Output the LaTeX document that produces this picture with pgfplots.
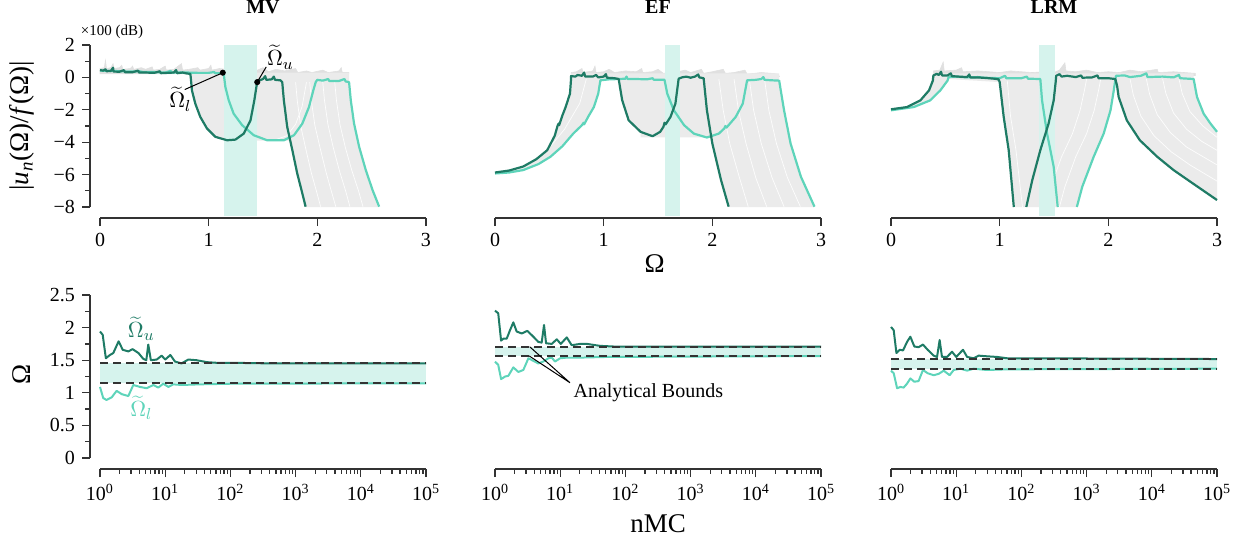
\documentclass[border=0pt]{standalone}
\usepackage{fontspec}
\setmainfont{Liberation Serif}
\usepackage{pgfplots}
\pgfplotsset{compat=1.18}
\definecolor{dk}{HTML}{1E7B65}
\definecolor{lt}{HTML}{5ED4BA}
\definecolor{bandc}{HTML}{D6F3ED}
\definecolor{bund}{HTML}{EBEBEB}
\definecolor{noise}{HTML}{E0E0E0}
\definecolor{spine}{HTML}{333333}

\pgfplotsset{
  common/.style={
    scale only axis, clip=false,
    axis x line*=bottom, axis y line*=left, separate axis lines,
    axis line style={draw=spine, line width=0.65pt, -},
    every outer x axis line/.append style={yshift=-5.5pt},
    every outer y axis line/.append style={xshift=-5pt},
    tick align=outside, major tick length=4pt, minor tick length=2.3pt,
    every tick/.style={draw=spine, line width=0.65pt},
    xtick style={yshift=-5.5pt}, ytick style={xshift=-5pt},
    xticklabel style={yshift=-5.5pt}, yticklabel style={xshift=-5pt},
    /pgf/number format/assume math mode=true,
    ticklabel style={font=\fontsize{10}{12}\selectfont},
    title style={font=\bfseries\fontsize{10}{12}\selectfont, yshift=6pt},
    label style={font=\fontsize{13.5}{16}\selectfont},
  },
  toprow/.style={common, width=163pt, height=81pt,
    xmin=0, xmax=3, ymin=-8, ymax=2,
    xtick={0,1,2,3}, ytick={-8,-6,-4,-2,0,2}, minor ytick={-7,-5,-3,-1,1},
    yticklabels={−8,−6,−4,−2,0,2}},
  botrow/.style={common, width=163pt, height=81.5pt,
    xmin=1, xmax=100000, ymin=0, ymax=2.5,
    xtick={1,10,100,1000,10000,100000},
    xticklabels={10\textsuperscript{0},10\textsuperscript{1},10\textsuperscript{2},10\textsuperscript{3},10\textsuperscript{4},10\textsuperscript{5}},
    minor xtick={2,3,4,5,6,7,8,9,20,30,40,50,60,70,80,90,200,300,400,500,600,700,800,900,2000,3000,4000,5000,6000,7000,8000,9000,20000,30000,40000,50000,60000,70000,80000,90000},
    ytick={0,0.5,1,1.5,2,2.5}, minor ytick={0.25,0.75,1.25,1.75,2.25},
    yticklabels={0,0.5,1,1.5,2,2.5}},
  dkc/.style={dk, line width=1.1pt, line join=round},
  ltc/.style={lt, line width=1.1pt, line join=round},
  wl/.style={white, line width=0.35pt, opacity=0.9},
  bnd/.style={draw=spine, line width=1pt, dash pattern=on 4pt off 2.5pt},
}

\begin{document}
\begin{tikzpicture}
\useasboundingbox (0,0) rectangle (622.5pt,268.5pt);

% ---------- MV, frequency response ----------
\begin{axis}[toprow, at={(50pt,165pt)}, anchor=south west, title={MV},
  ylabel={|\textit{u}\textsubscript{\textit{n}}(Ω)/\textit{f}(Ω)|},
  ylabel style={at={(axis description cs:-0.24,0.5)}, anchor=center}]
\addplot[fill=noise, draw=noise, line width=0.3pt] coordinates {(0,0.2)(0,0.55)(0.04,0.6)(0.05,1.05)(0.06,0.55)(0.1,0.6)(0.12,0.85)(0.13,0.55)(0.18,0.6)(0.2,0.75)(0.21,0.5)(0.28,0.55)(0.3,0.7)(0.31,0.5)(0.38,0.6)(0.42,0.5)(0.48,0.65)(0.49,0.45)(0.55,0.5)(0.6,0.7)(0.61,0.45)(0.68,0.5)(0.75,0.85)(0.76,0.45)(0.82,0.5)(0.9,0.6)(0.92,0.45)(1.0,0.55)(1.02,0.75)(1.03,0.45)(1.1,0.55)(1.2,0.45)(1.3,0.55)(1.32,0.75)(1.33,0.4)(1.45,0.45)(1.5,0.6)(1.55,0.35)(1.62,0.5)(1.7,0.4)(1.8,0.55)(1.82,0.3)(1.9,0.4)(1.95,0.3)(2.05,0.45)(2.1,0.3)(2.2,0.4)(2.22,0.6)(2.23,0.3)(2.29,0.3)(2.29,0.2)};
\addplot[fill=bund, draw=none] coordinates {(0.831,0.3)(2.292,0.3)(2.292,-0.29)(2.308,-1.42)(2.338,-2.85)(2.385,-4.29)(2.446,-5.72)(2.508,-6.95)(2.569,-8)(1.892,-8)(1.862,-7.16)(1.815,-5.93)(1.77,-4.49)(1.74,-3.9)(1.17,-3.9)(1.062,-3.67)(0.985,-3.16)(0.923,-2.44)(0.877,-1.62)(0.846,-0.8)(0.831,0.02)};
\addplot[wl] coordinates {(1.80,-0.29)(1.815,-1.42)(1.847,-3.0)(1.895,-4.45)(1.945,-5.9)(1.995,-7.1)(2.03,-7.98)};
\addplot[wl] coordinates {(1.93,-0.29)(1.945,-1.42)(1.977,-2.95)(2.027,-4.4)(2.08,-5.85)(2.13,-7.05)(2.17,-7.98)};
\addplot[wl] coordinates {(2.05,-0.29)(2.066,-1.42)(2.098,-2.92)(2.148,-4.37)(2.205,-5.8)(2.26,-7.0)(2.30,-7.98)};
\addplot[wl] coordinates {(2.16,-0.29)(2.176,-1.42)(2.208,-2.9)(2.258,-4.33)(2.318,-5.76)(2.378,-6.98)(2.42,-7.98)};
\addplot[wl] coordinates {(1.60,-3.88)(1.72,-3.6)(1.8,-2.9)(1.86,-1.8)(1.9,-0.3)};
\addplot[fill=bandc, draw=none] coordinates {(1.144,-8.55)(1.447,-8.55)(1.447,2)(1.144,2)};
\addplot[ltc] coordinates {(0,0.42)(0.3,0.36)(0.36,0.38)(0.4,0.33)(0.5,0.33)(0.6,0.3)(0.65,0.4)(0.66,0.3)(0.8,0.3)(0.9,0.28)(1.0,0.28)(1.05,0.33)(1.06,0.26)(1.138,0.26)(1.154,-0.6)(1.185,-1.42)(1.23,-2.24)(1.308,-2.95)(1.415,-3.57)(1.538,-3.88)(1.692,-3.88)(1.785,-3.57)(1.862,-2.85)(1.923,-1.83)(1.963,-0.8)(1.985,-0.29)(2.0,-0.15)(2.05,-0.2)(2.1,-0.1)(2.11,-0.22)(2.2,-0.22)(2.25,-0.1)(2.26,-0.25)(2.292,-0.29)(2.308,-1.42)(2.338,-2.85)(2.385,-4.29)(2.446,-5.72)(2.508,-6.95)(2.569,-7.98)};
\addplot[dkc] coordinates {(0,0.45)(0.03,0.42)(0.05,0.5)(0.06,0.38)(0.1,0.4)(0.12,0.6)(0.125,0.36)(0.18,0.35)(0.22,0.45)(0.23,0.32)(0.3,0.32)(0.35,0.42)(0.36,0.3)(0.42,0.3)(0.5,0.28)(0.55,0.38)(0.56,0.26)(0.62,0.28)(0.68,0.3)(0.7,0.45)(0.71,0.26)(0.76,0.3)(0.8,0.24)(0.831,0.22)(0.835,0.02)(0.846,-0.8)(0.877,-1.62)(0.923,-2.44)(0.985,-3.16)(1.062,-3.67)(1.17,-3.88)(1.246,-3.84)(1.323,-3.47)(1.385,-2.65)(1.42,-1.42)(1.446,-0.29)(1.47,-0.18)(1.5,-0.1)(1.52,0.08)(1.53,-0.15)(1.58,-0.12)(1.6,0.05)(1.61,-0.15)(1.66,-0.18)(1.677,-0.29)(1.692,-1.42)(1.723,-3.06)(1.77,-4.49)(1.815,-5.93)(1.862,-7.16)(1.892,-7.98)};
\addplot[only marks, mark=*, mark size=1.3pt, black] coordinates {(1.13,0.29)(1.447,-0.29)};
\draw[black, line width=0.5pt] (axis cs:0.78,-0.75) -- (axis cs:1.13,0.29);
\draw[black, line width=0.5pt] (axis cs:1.53,0.65) -- (axis cs:1.447,-0.29);
\node[font=\fontsize{11}{13}\selectfont] at (axis cs:0.74,-1.35) {$\widetilde{\Omega}_l$};
\node[font=\fontsize{11}{13}\selectfont] at (axis cs:1.66,1.25) {$\widetilde{\Omega}_u$};
\node[anchor=south west, inner sep=0pt, font=\fontsize{7.5}{9}\selectfont] at (rel axis cs:-0.06,1.035) {×100 (dB)};
\end{axis}

% ---------- EF, frequency response ----------
\begin{axis}[toprow, at={(247.5pt,165pt)}, anchor=south west, title={EF}, hide y axis,
  xlabel={Ω}, xlabel style={at={(axis description cs:0.49,-0.35)}, anchor=center}]
\addplot[fill=noise, draw=noise, line width=0.3pt] coordinates {(0.7,0.05)(0.7,0.3)(0.75,0.35)(0.8,0.55)(0.81,0.3)(0.9,0.4)(0.92,0.7)(0.93,0.3)(1.0,0.35)(1.05,0.5)(1.1,0.3)(1.2,0.4)(1.3,0.35)(1.35,0.55)(1.36,0.3)(1.45,0.35)(1.5,0.5)(1.55,0.25)(1.65,0.3)(1.75,0.45)(1.8,0.3)(1.9,0.5)(1.92,0.25)(2.0,0.35)(2.1,0.5)(2.12,0.25)(2.2,0.3)(2.3,0.45)(2.32,0.2)(2.45,0.3)(2.55,0.25)(2.6,0.2)(2.62,0.05)};
\addplot[fill=bund, draw=none] coordinates {(0,-5.87)(0.26,-5.5)(0.48,-4.5)(0.585,-2.85)(0.65,-1.83)(0.69,-1.0)(0.70,0.25)(2.615,0.25)(2.615,-0.2)(2.66,-2.03)(2.72,-4.08)(2.815,-6.13)(2.94,-8)(2.15,-8)(2.08,-6.34)(2.0,-4.08)(1.99,-3.7)(1.34,-3.7)(1.34,-3.36)(1.23,-2.65)(1.17,-1.4)(1.138,-0.1)(0.97,-0.18)(0.95,-1.0)(0.91,-1.83)(0.815,-2.85)(0.72,-3.47)(0.51,-4.9)(0.26,-5.72)(0,-5.93)};
\addplot[wl] coordinates {(2.06,-0.1)(2.1,-2.03)(2.16,-4.08)(2.25,-6.2)(2.33,-7.98)};
\addplot[wl] coordinates {(2.2,-0.1)(2.24,-2.03)(2.31,-4.08)(2.4,-6.2)(2.5,-7.98)};
\addplot[wl] coordinates {(2.34,-0.1)(2.38,-2.03)(2.45,-4.08)(2.55,-6.2)(2.66,-7.98)};
\addplot[wl] coordinates {(2.48,-0.1)(2.52,-2.03)(2.59,-4.08)(2.69,-6.17)(2.81,-7.98)};
\addplot[wl] coordinates {(0.2,-5.7)(0.45,-4.75)(0.64,-3.2)(0.78,-1.6)(0.84,-0.1)};
\addplot[fill=bandc, draw=none] coordinates {(1.567,-8.55)(1.70,-8.55)(1.70,2)(1.567,2)};
\addplot[ltc] coordinates {(0,-5.93)(0.13,-5.87)(0.26,-5.72)(0.4,-5.35)(0.51,-4.9)(0.62,-4.25)(0.72,-3.47)(0.8,-2.95)(0.815,-2.8)(0.82,-2.9)(0.86,-2.4)(0.91,-1.83)(0.95,-1.0)(0.97,-0.18)(1.05,-0.12)(1.14,-0.1)(1.2,-0.08)(1.21,0.05)(1.22,-0.1)(1.3,-0.1)(1.4,-0.12)(1.45,-0.05)(1.46,-0.14)(1.56,-0.15)(1.585,-1.0)(1.646,-2.03)(1.74,-2.95)(1.83,-3.47)(1.95,-3.71)(2.06,-3.47)(2.11,-3.15)(2.12,-3.0)(2.13,-3.1)(2.215,-2.44)(2.28,-1.62)(2.32,-0.18)(2.4,-0.15)(2.45,-0.1)(2.47,0.02)(2.48,-0.15)(2.55,-0.18)(2.615,-0.2)(2.66,-2.03)(2.72,-4.08)(2.815,-6.13)(2.94,-7.98)};
\addplot[dkc] coordinates {(0,-5.87)(0.13,-5.75)(0.26,-5.5)(0.38,-5.05)(0.48,-4.5)(0.55,-3.6)(0.575,-3.0)(0.585,-2.85)(0.59,-2.95)(0.62,-2.35)(0.65,-1.83)(0.69,-1.0)(0.70,-0.08)(0.70,0.08)(0.74,0.05)(0.76,0.15)(0.8,0.1)(0.82,0.3)(0.83,0.05)(0.9,0.05)(0.93,0.15)(0.95,0.0)(1.0,0.05)(1.02,0.2)(1.03,-0.02)(1.1,-0.05)(1.138,-0.1)(1.17,-1.4)(1.23,-2.65)(1.34,-3.36)(1.45,-3.63)(1.52,-3.36)(1.55,-3.05)(1.56,-2.8)(1.57,-2.9)(1.615,-2.44)(1.66,-1.62)(1.69,-0.08)(1.72,0.0)(1.76,0.05)(1.8,-0.02)(1.84,0.05)(1.87,0.18)(1.88,0.0)(1.92,-0.05)(1.95,-2.03)(2.0,-4.08)(2.08,-6.34)(2.15,-7.98)};
\end{axis}

% ---------- LRM, frequency response ----------
\begin{axis}[toprow, at={(445.5pt,165pt)}, anchor=south west, title={LRM}, hide y axis]
\addplot[fill=noise, draw=noise, line width=0.3pt] coordinates {(0.39,0.1)(0.39,0.4)(0.45,0.45)(0.48,0.95)(0.49,0.4)(0.6,0.45)(0.65,0.6)(0.66,0.35)(0.8,0.4)(0.9,0.35)(1.0,0.3)(1.1,0.4)(1.2,0.35)(1.3,0.3)(1.4,0.35)(1.5,0.3)(1.55,0.45)(1.6,0.9)(1.61,0.4)(1.7,0.35)(1.8,0.45)(1.9,0.3)(2.0,0.35)(2.1,0.3)(2.2,0.45)(2.3,0.35)(2.45,0.5)(2.46,0.3)(2.6,0.35)(2.7,0.3)(2.8,0.25)(2.8,0.1)};
\addplot[fill=bund, draw=none] coordinates {(0,-1.97)(0.147,-1.83)(0.27,-1.42)(0.35,-0.8)(0.39,0.25)(2.785,0.25)(2.785,-0.1)(2.816,-1.21)(2.877,-2.24)(2.94,-2.85)(3.0,-3.36)(3.0,-7.57)(2.755,-6.44)(2.6,-5.72)(2.45,-4.9)(2.29,-3.88)(2.17,-2.65)(2.095,-1.21)(2.064,-0.1)(2.05,-0.8)(2.02,-2.03)(1.957,-3.47)(1.865,-4.9)(1.76,-6.75)(1.71,-8)(1.13,-8)(1.083,-4.49)(1.037,-2.44)(1.0,-0.29)(0.53,-0.1)(0.454,-0.8)(0.36,-1.42)(0.21,-1.83)(0,-2.03)};
\addplot[wl] coordinates {(2.2,-0.1)(2.23,-1.1)(2.3,-2.4)(2.42,-3.6)(2.58,-4.6)(2.75,-5.4)(3.0,-6.4)};
\addplot[wl] coordinates {(2.35,-0.1)(2.38,-1.05)(2.45,-2.3)(2.57,-3.4)(2.72,-4.3)(3.0,-5.4)};
\addplot[wl] coordinates {(2.5,-0.1)(2.53,-1.0)(2.6,-2.2)(2.72,-3.2)(2.86,-3.95)(3.0,-4.5)};
\addplot[wl] coordinates {(2.65,-0.1)(2.68,-1.0)(2.75,-2.1)(2.87,-3.0)(3.0,-3.7)};
\addplot[wl] coordinates {(1.55,-8)(1.6,-6.75)(1.7,-4.9)(1.8,-3.47)(1.87,-2.03)(1.91,-0.8)(1.93,-0.1)};
\addplot[wl] coordinates {(1.42,-8)(1.47,-6.75)(1.57,-4.9)(1.67,-3.47)(1.74,-2.03)(1.78,-0.8)(1.8,-0.1)};
\addplot[wl] coordinates {(1.07,-0.2)(1.1,-2.4)(1.15,-4.5)(1.21,-8)};
\addplot[fill=bandc, draw=none] coordinates {(1.365,-8.55)(1.51,-8.55)(1.51,2)(1.365,2)};
\addplot[ltc] coordinates {(0,-2.03)(0.21,-1.83)(0.36,-1.42)(0.454,-0.8)(0.52,-0.2)(0.53,0.02)(0.6,0.05)(0.7,0.0)(0.8,0.02)(0.85,-0.02)(1.0,-0.05)(1.05,0.1)(1.06,-0.05)(1.2,-0.05)(1.25,0.05)(1.26,-0.08)(1.374,-0.1)(1.39,-1.42)(1.436,-3.47)(1.497,-5.52)(1.534,-8.0)};
\addplot[ltc] coordinates {(1.71,-8)(1.76,-6.75)(1.865,-4.9)(1.957,-3.47)(2.02,-2.03)(2.05,-0.8)(2.07,0.1)(2.15,0.12)(2.2,0.02)(2.3,0.1)(2.35,0.25)(2.36,0.02)(2.5,0.05)(2.6,0.0)(2.65,0.15)(2.66,-0.05)(2.785,-0.1)(2.816,-1.21)(2.877,-2.24)(2.94,-2.85)(3.0,-3.36)};
\addplot[dkc] coordinates {(0,-1.97)(0.147,-1.83)(0.27,-1.42)(0.35,-0.8)(0.385,-0.2)(0.39,0.12)(0.42,0.22)(0.44,0.15)(0.46,0.35)(0.47,0.12)(0.52,0.12)(0.55,0.25)(0.56,0.08)(0.62,0.05)(0.7,0.02)(0.72,0.18)(0.73,0.0)(0.8,0.0)(0.9,-0.05)(0.95,-0.08)(0.99,-0.12)(1.0,-0.29)(1.037,-2.44)(1.083,-4.49)(1.13,-8.0)};
\addplot[dkc] coordinates {(1.245,-8)(1.30,-6.34)(1.374,-4.49)(1.45,-2.85)(1.497,-1.42)(1.515,-0.3)(1.52,0.1)(1.55,0.2)(1.57,0.05)(1.62,0.1)(1.7,0.02)(1.75,0.12)(1.76,-0.02)(1.85,0.0)(1.9,0.12)(1.91,-0.05)(2.0,-0.05)(2.064,-0.1)(2.08,-0.5)(2.095,-1.21)(2.17,-2.65)(2.29,-3.88)(2.45,-4.9)(2.6,-5.72)(2.755,-6.44)(3.0,-7.57)};
\end{axis}

% ---------- MV, convergence ----------
\begin{axis}[xmode=log, botrow, at={(50pt,39.5pt)}, anchor=south west,
  ylabel={Ω}, ylabel style={at={(axis description cs:-0.24,0.51)}, anchor=center}]
\addplot[fill=bandc, draw=none] coordinates {(1,1.146)(100000,1.146)(100000,1.452)(1,1.452)};
\addplot[dkc, line width=1pt] coordinates {(1,1.94)(1.1,1.89)(1.23,1.53)(1.42,1.58)(1.6,1.61)(1.93,1.79)(2.23,1.66)(2.72,1.635)(3.16,1.67)(3.89,1.61)(4.62,1.52)(5.13,1.50)(5.5,1.74)(6.03,1.50)(7.41,1.51)(8.83,1.57)(10,1.51)(12,1.58)(14.1,1.48)(17.8,1.45)(22.6,1.51)(30.2,1.50)(43.7,1.47)(61.7,1.46)(110,1.46)(355,1.452)(100000,1.452)};
\addplot[ltc, line width=1pt] coordinates {(1,1.09)(1.12,0.92)(1.26,0.89)(1.51,0.93)(1.8,1.03)(2.15,0.98)(2.72,0.95)(3.24,1.12)(4.11,1.09)(5.2,1.07)(6.58,1.12)(7.85,1.08)(9.33,1.14)(11.2,1.09)(13.3,1.13)(17.8,1.12)(33.9,1.13)(110,1.14)(100000,1.146)};
\addplot[bnd] coordinates {(1,1.452)(100000,1.452)};
\addplot[bnd] coordinates {(1,1.146)(100000,1.146)};
\node[dk, font=\fontsize{11}{13}\selectfont] at (axis cs:4.3,1.98) {$\widetilde{\Omega}_u$};
\node[lt, font=\fontsize{11}{13}\selectfont] at (axis cs:4.3,0.77) {$\widetilde{\Omega}_l$};
\end{axis}

% ---------- EF, convergence ----------
\begin{axis}[xmode=log, botrow, at={(247.5pt,39.5pt)}, anchor=south west, hide y axis,
  xlabel={nMC}, xlabel style={at={(axis description cs:0.5,-0.405)}, anchor=center}]
\addplot[fill=bandc, draw=none] coordinates {(1,1.565)(100000,1.565)(100000,1.707)(1,1.707)};
\addplot[dkc, line width=1pt] coordinates {(1,2.26)(1.12,2.22)(1.24,1.80)(1.34,1.83)(1.51,1.83)(1.7,1.96)(1.91,2.08)(2.15,1.94)(2.57,1.91)(3.13,1.95)(3.88,1.86)(4.62,1.78)(5.2,1.77)(5.65,2.04)(6.07,1.76)(7.41,1.75)(8.85,1.82)(10.2,1.75)(12.6,1.85)(15,1.73)(20.2,1.75)(25.7,1.75)(40.7,1.72)(66,1.71)(170,1.707)(100000,1.707)};
\addplot[ltc, line width=1pt] coordinates {(1,1.477)(1.12,1.43)(1.24,1.21)(1.43,1.25)(1.6,1.26)(1.91,1.39)(2.28,1.32)(2.72,1.35)(3.25,1.53)(3.88,1.49)(4.62,1.45)(5.52,1.48)(6.61,1.53)(7.41,1.54)(8.32,1.48)(10,1.53)(12.6,1.54)(20.2,1.54)(51.3,1.55)(100000,1.564)};
\addplot[bnd] coordinates {(1,1.707)(100000,1.707)};
\addplot[bnd] coordinates {(1,1.565)(100000,1.565)};
\draw[black, line width=0.5pt] (axis cs:3.4,1.707) -- (axis cs:14.1,1.155) -- (axis cs:3.35,1.565);
\node[anchor=west, font=\fontsize{10}{12}\selectfont] at (axis cs:12.5,1.0) {Analytical Bounds};
\end{axis}

% ---------- LRM, convergence ----------
\begin{axis}[xmode=log, botrow, at={(445.5pt,39.5pt)}, anchor=south west, hide y axis]
\addplot[fill=bandc, draw=none] coordinates {(1,1.37)(100000,1.37)(100000,1.518)(1,1.518)};
\addplot[dkc, line width=1pt] coordinates {(1,2.01)(1.1,1.96)(1.21,1.61)(1.36,1.66)(1.53,1.65)(1.76,1.78)(1.98,1.86)(2.28,1.71)(2.65,1.70)(3.09,1.74)(3.65,1.66)(4.51,1.57)(5.08,1.55)(5.57,1.81)(6.05,1.55)(7.23,1.55)(8.63,1.63)(10,1.55)(12.7,1.66)(14.7,1.55)(18.5,1.53)(22.1,1.57)(29.5,1.56)(42.3,1.55)(60.3,1.53)(123,1.53)(100000,1.518)};
\addplot[ltc, line width=1pt] coordinates {(1,1.339)(1.1,1.30)(1.24,1.07)(1.39,1.09)(1.56,1.08)(1.76,1.14)(1.98,1.22)(2.28,1.17)(2.65,1.18)(3.09,1.35)(3.65,1.30)(4.51,1.27)(5.38,1.29)(6.43,1.34)(7.94,1.27)(9.14,1.35)(11.6,1.37)(14.7,1.34)(18.5,1.37)(29.6,1.35)(60.3,1.36)(100000,1.37)};
\addplot[bnd] coordinates {(1,1.518)(100000,1.518)};
\addplot[bnd] coordinates {(1,1.37)(100000,1.37)};
\end{axis}
\end{tikzpicture}
\end{document}
